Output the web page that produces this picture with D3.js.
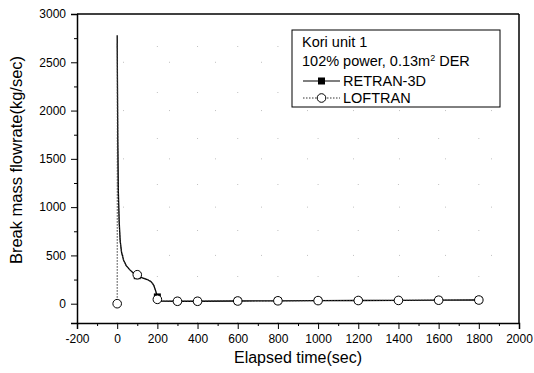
<!DOCTYPE html>
<html><head><meta charset="utf-8">
<script src="https://cdn.jsdelivr.net/npm/d3@7"></script>
<style>body{margin:0;background:#fff}svg{display:block}</style>
</head><body><svg id="c" width="534" height="373"></svg>
<script>
// data
const retranTime = [0, 1, 3, 6, 10, 15, 22, 32, 45, 63, 80, 100, 125, 150, 170, 182, 192, 200, 210, 300, 400, 600, 800, 1000, 1200, 1400, 1600, 1800];
const retranFlow = [2780, 2400, 1700, 1150, 850, 650, 530, 450, 395, 350, 318, 290, 268, 250, 225, 190, 130, 70, 26, 25, 25, 28, 30, 32, 33, 34, 36, 38];
const retranMarkTime = [100, 200, 300, 400, 600, 800, 1000, 1200, 1400, 1600, 1800];
const retranMarkFlow = [290, 70, 25, 25, 28, 30, 32, 33, 34, 36, 38];
const loftranTime = [0, 1, 3, 6, 10, 15, 22, 32, 45, 63, 80, 100, 125, 150, 170, 182, 192, 200, 210, 300, 400, 600, 800, 1000, 1200, 1400, 1600, 1800];
const loftranFlow = [0, 2700, 1650, 1100, 820, 640, 525, 450, 392, 352, 322, 300, 272, 252, 230, 195, 120, 45, 26, 25, 25, 28, 30, 32, 33, 34, 36, 38];
const loftranMarkTime = [0, 100, 200, 300, 400, 600, 800, 1000, 1200, 1400, 1600, 1800];
const loftranMarkFlow = [0, 300, 45, 25, 25, 28, 30, 32, 33, 34, 36, 38];
const xTicks = [-200, 0, 200, 400, 600, 800, 1000, 1200, 1400, 1600, 1800, 2000];
const yTicks = [0, 500, 1000, 1500, 2000, 2500, 3000];
const legendTitle1 = "Kori unit 1";
const legendNames = ["RETRAN-3D", "LOFTRAN"];

const svg = d3.select("#c");
const font = "'Liberation Sans', Arial, sans-serif";
const L = 77, R = 519, T = 14, B = 323;
const x = d3.scaleLinear().domain([-200, 2000]).range([L, R]);
const y = d3.scaleLinear().domain([-200, 3000]).range([B, T]);
const fmt = v => String(v); // plain hyphen-minus like the original

// faint dotted grid
const g = svg.append("g").attr("stroke", "#999").attr("stroke-width", 1).attr("stroke-dasharray", "1,45").attr("opacity", 0.6);
xTicks.slice(1, -1).forEach(v => g.append("line").attr("x1", x(v)).attr("x2", x(v)).attr("y1", B).attr("y2", T));
yTicks.slice(1, -1).forEach(v => g.append("line").attr("y1", y(v)).attr("y2", y(v)).attr("x1", L).attr("x2", R));

// axes
const xMinor = d3.range(-100, 2000, 200);
const yMinor = d3.range(-250, 3000, 500).filter(v => v > -200);
svg.append("g").attr("transform", `translate(0,${B})`)
  .call(d3.axisBottom(x).tickValues(xTicks).tickFormat(fmt).tickSize(6).tickPadding(5));
svg.append("g").attr("transform", `translate(0,${B})`)
  .call(d3.axisBottom(x).tickValues(xMinor).tickFormat("").tickSize(3)).select(".domain").remove();
svg.append("g").attr("transform", `translate(${L},0)`)
  .call(d3.axisLeft(y).tickValues(yTicks).tickFormat(fmt).tickSize(6).tickPadding(5));
svg.append("g").attr("transform", `translate(${L},0)`)
  .call(d3.axisLeft(y).tickValues(yMinor).tickFormat("").tickSize(3)).select(".domain").remove();
svg.selectAll(".tick text").attr("font-family", font).attr("font-size", 12).attr("fill", "#000");
svg.selectAll(".domain").attr("stroke", "#000").attr("stroke-width", 1.5);
svg.selectAll(".tick line").attr("stroke", "#000");
// frame top/right
svg.append("line").attr("x1", L).attr("x2", R).attr("y1", T).attr("y2", T).attr("stroke", "#000").attr("stroke-width", 1.5);
svg.append("line").attr("x1", R).attr("x2", R).attr("y1", T).attr("y2", B).attr("stroke", "#000").attr("stroke-width", 1.5);

// axis titles
svg.append("text").attr("x", 298).attr("y", 363).attr("text-anchor", "middle")
  .attr("font-family", font).attr("font-size", 16).text("Elapsed time(sec)");
svg.append("text").attr("transform", `translate(22,160) rotate(-90)`).attr("text-anchor", "middle")
  .attr("font-family", font).attr("font-size", 16.5).text("Break mass flowrate(kg/sec)");

// lines
const line = d3.line().x(d => x(d[0])).y(d => y(d[1]));
const rData = d3.zip(retranTime, retranFlow);
const lData = d3.zip(loftranTime, loftranFlow);
svg.append("path").attr("d", line(rData)).attr("fill", "none").attr("stroke", "#000").attr("stroke-width", 1.3);
svg.append("path").attr("d", line(lData)).attr("fill", "none").attr("stroke", "#333").attr("stroke-width", 1).attr("stroke-dasharray", "1.5,1.5");

// markers
svg.append("g").selectAll("rect").data(d3.zip(retranMarkTime, retranMarkFlow)).join("rect")
  .attr("x", d => x(d[0]) - 3.5).attr("y", d => y(d[1]) - 3.5).attr("width", 7).attr("height", 7).attr("fill", "#000");
svg.append("g").selectAll("circle").data(d3.zip(loftranMarkTime, loftranMarkFlow)).join("circle")
  .attr("cx", d => x(d[0])).attr("cy", d => y(d[1])).attr("r", 4.3).attr("fill", "#fff").attr("stroke", "#000").attr("stroke-width", 1);

// legend
const lg = svg.append("g");
lg.append("rect").attr("x", 292).attr("y", 30).attr("width", 208).attr("height", 77).attr("fill", "#fff").attr("stroke", "#000").attr("stroke-width", 1);
lg.append("text").attr("x", 302).attr("y", 47).attr("font-family", font).attr("font-size", 14.5).text(legendTitle1);
const t2 = lg.append("text").attr("x", 302).attr("y", 66).attr("font-family", font).attr("font-size", 14.5);
t2.append("tspan").text("102% power, 0.13m");
t2.append("tspan").attr("dy", -5).attr("font-size", 9).text("2");
t2.append("tspan").attr("dy", 5).text(" DER");
lg.append("line").attr("x1", 303).attr("x2", 340).attr("y1", 81).attr("y2", 81).attr("stroke", "#000").attr("stroke-width", 1.2);
lg.append("rect").attr("x", 318).attr("y", 77.5).attr("width", 7).attr("height", 7).attr("fill", "#000");
lg.append("text").attr("x", 343).attr("y", 86).attr("font-family", font).attr("font-size", 14.5).text(legendNames[0]);
lg.append("line").attr("x1", 303).attr("x2", 340).attr("y1", 98).attr("y2", 98).attr("stroke", "#333").attr("stroke-width", 1).attr("stroke-dasharray", "1.5,1.5");
lg.append("circle").attr("cx", 321.5).attr("cy", 98).attr("r", 4.3).attr("fill", "#fff").attr("stroke", "#000");
lg.append("text").attr("x", 343).attr("y", 103).attr("font-family", font).attr("font-size", 14.5).text(legendNames[1]);
</script></body></html>
